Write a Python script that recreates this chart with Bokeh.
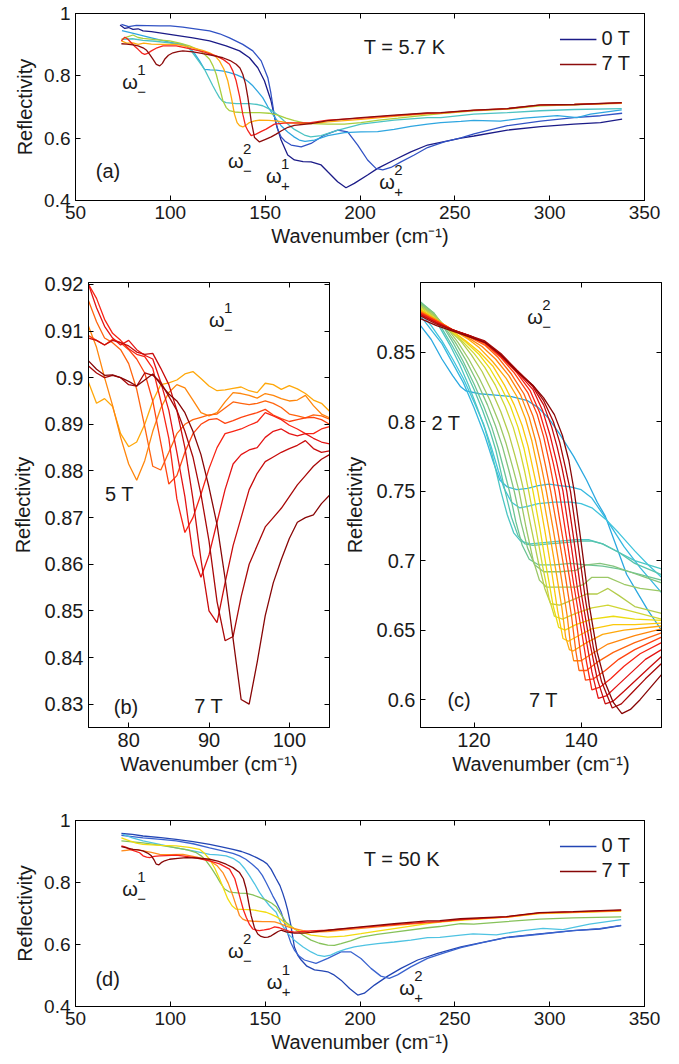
from bokeh.plotting import figure
from bokeh.models import LinearAxis, FixedTicker, Label, Legend, LegendItem, Range1d
from bokeh.layouts import column, row
from bokeh.embed import file_html
from bokeh.resources import INLINE

# ---------------- data ----------------
# Panel (a): T = 5.7 K, fields 0..7 T
a_fields = ["0 T", "1 T", "2 T", "3 T", "4 T", "5 T", "6 T", "7 T"]
a_wavenumber = [
    [73.5, 76, 78, 80.3, 83, 85.6, 90, 94.4, 103.1, 111.9, 120.7, 129.4, 136.5, 141.7, 146.1, 149.6, 153.1, 155.8, 158.4, 161.9, 165.4, 170, 174.2, 179.5, 183, 188.2, 192.6, 197, 204, 209.3, 218, 226.8, 235.6, 244.4, 253.2, 260.1, 277.7, 295.2, 312.8, 326.8, 338.2],
    [74.2, 78, 82.1, 88, 94.4, 100, 106.6, 113, 120.7, 126, 131.2, 138.2, 143.5, 147.9, 151.4, 153, 154.9, 156.5, 158.4, 160.5, 163.7, 169, 174.2, 181.2, 188.2, 193.5, 198.8, 204, 208.4, 212, 216.3, 221.6, 228.6, 235.6, 244.4, 253.2, 260.1, 277.7, 295.2, 312.8, 326.8, 338.2],
    [74.5, 80, 90, 100, 106.6, 110.1, 113, 115.4, 118, 121, 124.2, 128, 131.2, 135, 138.2, 141, 143.5, 146, 148.7, 151.5, 154.9, 158.4, 161.9, 165, 168, 171, 176, 183, 191.8, 200.5, 209.3, 218, 226.8, 235.6, 242.6, 253.2, 260, 274, 286.5, 304, 314.5, 321.5, 338],
    [75, 80, 85.6, 92, 99.6, 105, 108.4, 111, 113.7, 116, 118, 120, 122.4, 124.2, 125.9, 127.5, 129.4, 134.7, 141.7, 146, 148.7, 151, 153.2, 156.5, 160, 165.4, 170.7, 174, 179.5, 188, 200.5, 218, 235.6, 242.6, 260, 277.7, 295, 313, 338],
    [74.2, 77, 80.3, 83, 85.6, 92, 99.6, 105, 110.1, 114, 117.2, 120.7, 122.5, 124.2, 126, 127.7, 129.5, 131.2, 134, 138.2, 147, 152, 156.7, 161, 165.4, 170, 174.2, 183, 191.8, 200.5, 210, 220, 235, 242.6, 260, 277.7, 295, 313, 338],
    [74.2, 77, 80.3, 83, 86, 90, 94.4, 103.1, 111.9, 117, 120.7, 123.5, 125.9, 128.2, 130.3, 132.2, 133.8, 135.2, 136.5, 138.2, 140, 141.7, 144, 147, 152, 156.7, 161, 165.4, 174.2, 183, 200.5, 218, 235, 242.6, 260, 277.7, 295, 313, 338],
    [74.2, 76, 77.5, 79.4, 81, 83, 85, 86.5, 88, 90, 93, 96.1, 103.1, 111.9, 118, 124.2, 128, 131.2, 133, 134.7, 136.5, 138.2, 139.6, 140.9, 142.6, 145.2, 148, 150.5, 154.9, 160, 165.4, 174, 183, 200.5, 218, 235.6, 242.6, 260, 277.7, 295, 313, 338],
    [74.2, 77, 80.3, 83, 85.6, 87.5, 89.1, 91, 92.6, 94.4, 95.8, 97, 99, 101.4, 104, 106.6, 112, 117.2, 122, 127.7, 131.5, 134.7, 136.7, 138.2, 139.6, 140.9, 142.6, 144.4, 147, 150.5, 153.2, 155.8, 158.4, 162, 165.4, 174.2, 183, 200.5, 218, 235.6, 242.6, 260, 277.7, 295, 313, 338],
]
a_reflectivity = [
    [0.963, 0.952, 0.955, 0.949, 0.951, 0.944, 0.942, 0.938, 0.930, 0.922, 0.912, 0.896, 0.880, 0.858, 0.826, 0.784, 0.720, 0.645, 0.594, 0.546, 0.530, 0.525, 0.524, 0.514, 0.492, 0.460, 0.441, 0.455, 0.482, 0.503, 0.530, 0.556, 0.578, 0.589, 0.600, 0.607, 0.626, 0.637, 0.645, 0.650, 0.661],
    [0.965, 0.958, 0.962, 0.961, 0.960, 0.960, 0.956, 0.951, 0.944, 0.935, 0.922, 0.901, 0.880, 0.848, 0.794, 0.745, 0.670, 0.630, 0.604, 0.590, 0.578, 0.572, 0.583, 0.610, 0.626, 0.620, 0.578, 0.530, 0.503, 0.498, 0.506, 0.524, 0.546, 0.570, 0.588, 0.601, 0.614, 0.640, 0.655, 0.666, 0.672, 0.680],
    [0.945, 0.937, 0.922, 0.907, 0.901, 0.890, 0.870, 0.848, 0.821, 0.819, 0.818, 0.815, 0.810, 0.803, 0.794, 0.782, 0.768, 0.750, 0.730, 0.700, 0.668, 0.640, 0.620, 0.605, 0.594, 0.590, 0.594, 0.608, 0.618, 0.620, 0.621, 0.628, 0.638, 0.645, 0.650, 0.654, 0.657, 0.655, 0.664, 0.672, 0.666, 0.677, 0.691],
    [0.917, 0.919, 0.914, 0.911, 0.906, 0.901, 0.896, 0.880, 0.858, 0.838, 0.821, 0.797, 0.768, 0.748, 0.730, 0.719, 0.714, 0.711, 0.711, 0.708, 0.704, 0.697, 0.690, 0.675, 0.655, 0.628, 0.610, 0.604, 0.608, 0.625, 0.645, 0.658, 0.666, 0.666, 0.677, 0.682, 0.688, 0.692, 0.695],
    [0.917, 0.924, 0.931, 0.923, 0.920, 0.916, 0.912, 0.905, 0.896, 0.886, 0.874, 0.853, 0.832, 0.805, 0.762, 0.720, 0.698, 0.688, 0.684, 0.682, 0.682, 0.680, 0.674, 0.664, 0.656, 0.650, 0.647, 0.645, 0.645, 0.650, 0.658, 0.664, 0.674, 0.679, 0.688, 0.693, 0.704, 0.707, 0.713],
    [0.912, 0.905, 0.906, 0.901, 0.905, 0.902, 0.901, 0.901, 0.890, 0.882, 0.874, 0.864, 0.848, 0.822, 0.784, 0.730, 0.677, 0.650, 0.640, 0.636, 0.642, 0.650, 0.655, 0.658, 0.657, 0.655, 0.651, 0.648, 0.647, 0.652, 0.660, 0.670, 0.678, 0.680, 0.689, 0.694, 0.706, 0.708, 0.712],
    [0.912, 0.924, 0.918, 0.906, 0.896, 0.885, 0.873, 0.869, 0.872, 0.880, 0.890, 0.896, 0.896, 0.885, 0.876, 0.864, 0.852, 0.837, 0.815, 0.784, 0.735, 0.677, 0.640, 0.624, 0.608, 0.613, 0.622, 0.629, 0.645, 0.648, 0.649, 0.650, 0.658, 0.664, 0.672, 0.680, 0.681, 0.689, 0.695, 0.706, 0.708, 0.713],
    [0.903, 0.902, 0.899, 0.896, 0.890, 0.882, 0.869, 0.852, 0.837, 0.832, 0.840, 0.853, 0.866, 0.874, 0.878, 0.880, 0.877, 0.871, 0.866, 0.858, 0.849, 0.837, 0.825, 0.805, 0.775, 0.730, 0.656, 0.602, 0.588, 0.597, 0.604, 0.613, 0.623, 0.635, 0.641, 0.647, 0.656, 0.666, 0.674, 0.681, 0.682, 0.690, 0.695, 0.707, 0.708, 0.714],
]

# Panel (b): omega_-^1 region, 5 T .. 7 T in 0.25 T steps
b_fields = ["5 T", "5.25 T", "5.5 T", "5.75 T", "6 T", "6.25 T", "6.5 T", "6.75 T", "7 T"]
b_wavenumber = [75, 76, 77, 78, 79, 80, 81, 82, 83, 84, 85, 86, 87, 88, 89, 90, 91, 92, 93, 94, 95, 96, 97, 98, 99, 100, 101, 102, 103, 104, 105]
b_reflectivity = [
    [0.8990, 0.8945, 0.8955, 0.8938, 0.8880, 0.8852, 0.8862, 0.8900, 0.8950, 0.8985, 0.8989, 0.8995, 0.9008, 0.9013, 0.8998, 0.8982, 0.8972, 0.8974, 0.8977, 0.8980, 0.8972, 0.8968, 0.8988, 0.8985, 0.8975, 0.8983, 0.8976, 0.8966, 0.8952, 0.8945, 0.8928],
    [0.9110, 0.9065, 0.9000, 0.8940, 0.8872, 0.8815, 0.8780, 0.8822, 0.8885, 0.8935, 0.8968, 0.8985, 0.8978, 0.8952, 0.8925, 0.8918, 0.8925, 0.8948, 0.8968, 0.8966, 0.8962, 0.8956, 0.8966, 0.8962, 0.8955, 0.8950, 0.8952, 0.8962, 0.8940, 0.8922, 0.8914],
    [0.9165, 0.9120, 0.9085, 0.9075, 0.9060, 0.9030, 0.8975, 0.8895, 0.8810, 0.8802, 0.8840, 0.8880, 0.8900, 0.8910, 0.8915, 0.8920, 0.8922, 0.8935, 0.8948, 0.8945, 0.8942, 0.8945, 0.8950, 0.8945, 0.8936, 0.8922, 0.8918, 0.8914, 0.8920, 0.8918, 0.8911],
    [0.9090, 0.9080, 0.9070, 0.9082, 0.9075, 0.9060, 0.9040, 0.9010, 0.8950, 0.8860, 0.8772, 0.8790, 0.8840, 0.8880, 0.8900, 0.8910, 0.8912, 0.8902, 0.8908, 0.8915, 0.8920, 0.8925, 0.8932, 0.8920, 0.8912, 0.8906, 0.8910, 0.8914, 0.8915, 0.8910, 0.8900],
    [0.9200, 0.9170, 0.9125, 0.9095, 0.9080, 0.9062, 0.9050, 0.9045, 0.9020, 0.8950, 0.8870, 0.8740, 0.8668, 0.8700, 0.8750, 0.8805, 0.8850, 0.8880, 0.8885, 0.8890, 0.8898, 0.8905, 0.8925, 0.8918, 0.8910, 0.8898, 0.8890, 0.8880, 0.8880, 0.8890, 0.8895],
    [0.9200, 0.9150, 0.9110, 0.9085, 0.9070, 0.9080, 0.9060, 0.9048, 0.9040, 0.8990, 0.8930, 0.8840, 0.8745, 0.8620, 0.8572, 0.8620, 0.8690, 0.8760, 0.8815, 0.8835, 0.8845, 0.8850, 0.8872, 0.8885, 0.8890, 0.8880, 0.8875, 0.8880, 0.8870, 0.8862, 0.8858],
    [0.9085, 0.9080, 0.9070, 0.9080, 0.9075, 0.9068, 0.9055, 0.9050, 0.9052, 0.9020, 0.8985, 0.8930, 0.8850, 0.8740, 0.8610, 0.8500, 0.8475, 0.8560, 0.8640, 0.8700, 0.8760, 0.8795, 0.8820, 0.8830, 0.8840, 0.8848, 0.8855, 0.8865, 0.8848, 0.8840, 0.8843],
    [0.9025, 0.9010, 0.9000, 0.9005, 0.9000, 0.8985, 0.8982, 0.9010, 0.9005, 0.8990, 0.8960, 0.8930, 0.8885, 0.8830, 0.8750, 0.8650, 0.8520, 0.8436, 0.8445, 0.8530, 0.8600, 0.8640, 0.8680, 0.8700, 0.8720, 0.8745, 0.8770, 0.8790, 0.8810, 0.8825, 0.8835],
    [0.9036, 0.9018, 0.9005, 0.9006, 0.9000, 0.8992, 0.8982, 0.8995, 0.9008, 0.8985, 0.8965, 0.8950, 0.8925, 0.8885, 0.8835, 0.8765, 0.8685, 0.8570, 0.8440, 0.8310, 0.8300, 0.8390, 0.8490, 0.8560, 0.8610, 0.8655, 0.8690, 0.8700, 0.8706, 0.8730, 0.8748],
]

# Panel (c): omega_-^2 region, 2 T .. 7 T in 0.25 T steps
c_fields = ["2 T", "2.25 T", "2.5 T", "2.75 T", "3 T", "3.25 T", "3.5 T", "3.75 T", "4 T", "4.25 T", "4.5 T",
            "4.75 T", "5 T", "5.25 T", "5.5 T", "5.75 T", "6 T", "6.25 T", "6.5 T", "6.75 T", "7 T"]
c_wavenumber = [
    [110, 112, 114, 116, 117.5, 118.5, 121, 124, 127, 130, 132, 134, 136, 138.6, 141, 143, 144.5, 146.5, 148.5, 150.5, 152.5, 155],
    [110, 112, 114, 116, 118, 120, 122, 123.5, 124.8, 126.2, 128, 130, 132, 134, 136, 138, 140, 142, 145, 148, 151, 155],
    [110, 112, 114, 116, 118, 120, 121.8, 123.2, 124.5, 125.6, 127, 128.5, 130, 132, 135, 138, 140, 142, 144.5, 147, 150, 152.5, 155],
    [110, 112, 113.7, 115.5, 117.3, 119, 120.6, 122, 123.2, 124.2, 125, 126.2, 127.4, 128.7, 130.5, 133, 136, 139, 141.5, 144, 147, 150, 155],
    [110, 112.5, 114, 116, 118, 120, 121.6, 123, 124.1, 125, 125.8, 127, 128.2, 129.5, 131, 134, 137, 140, 142, 144, 147, 150, 155],
    [110, 112.5, 114.3, 116.2, 118, 120, 121.8, 123.3, 124.5, 125.6, 126.6, 127.8, 129, 130.3, 132, 135, 138, 141, 144, 147, 150, 155],
    [110, 112.5, 114.5, 116.5, 118.5, 120.5, 122.5, 124, 125.3, 126.5, 127.5, 128.8, 130, 131.3, 133, 136, 139, 141, 143.5, 146, 149, 152, 155],
    [110, 112.5, 115, 117, 119, 121, 123, 124.7, 126, 127.3, 128.4, 129.7, 131, 132.2, 133.5, 136, 139, 140.5, 142, 145, 148, 151, 155],
    [110, 112.5, 115, 117.5, 119.5, 121.5, 123.3, 125, 126.5, 127.6, 128.5, 129.3, 130.6, 132, 133.2, 134.3, 136, 138.5, 141, 143, 145, 147, 150, 155],
    [110, 112.5, 115, 117.5, 120, 122, 124, 125.8, 127.3, 128.5, 129.4, 130.2, 131.5, 132.8, 134, 135, 136.5, 139, 142, 145, 150, 155],
    [110, 113, 116, 118.5, 121, 123, 125, 126.8, 128.2, 129.3, 130.2, 131, 132.3, 133.6, 134.8, 135.8, 137, 139, 142, 146, 150, 155],
    [110, 113, 116, 118.5, 121, 123.5, 125.7, 127.5, 129, 130.1, 131, 131.9, 133.2, 134.5, 135.6, 136.6, 137.6, 139.5, 142, 146, 150, 155],
    [110, 113, 116, 119, 121, 123.5, 126, 128, 129.6, 130.8, 131.8, 132.7, 134, 135.4, 136.4, 137.1, 137.8, 138.5, 141, 144, 148, 155],
    [110, 113, 116, 119, 121.5, 124, 126.5, 128.7, 130.3, 131.5, 132.5, 133.5, 134.8, 136.2, 137.4, 138, 138.6, 140, 142, 145, 150, 155],
    [110, 113, 116, 119, 122, 124.5, 127, 129.3, 131, 132.3, 133.3, 134.3, 135.6, 137, 138.2, 139, 139.6, 141, 143, 146, 150, 155],
    [110, 113, 116, 119, 122, 125, 127.5, 130, 131.8, 133, 134.1, 135.1, 136.4, 137.8, 139, 140, 140.8, 142.3, 144.5, 147, 150, 155],
    [110, 113, 116, 119, 122, 125, 128, 130.5, 132.3, 133.6, 134.8, 135.9, 137.2, 138.6, 140, 141, 142, 143.5, 145.5, 148, 151, 155],
    [110, 113, 116, 119, 122, 125, 128, 131, 132.8, 134.2, 135.4, 136.6, 137.9, 139.3, 140.8, 142, 143.2, 144.8, 147, 149.5, 152, 155],
    [110, 113, 116, 119, 122, 125, 128, 131, 133, 134.5, 135.5, 136.4, 137.3, 138.6, 140, 141.5, 143, 144.5, 146, 148, 150.5, 153, 155],
    [110, 113, 116, 119, 122, 125, 128, 131, 133, 134.8, 136, 137, 138, 139.3, 140.8, 142.3, 143.8, 145.8, 147.5, 149.5, 152, 155],
    [110, 113, 116, 119, 122, 125, 128, 131, 133, 135, 136.5, 137.7, 138.7, 140, 141.5, 143, 144.5, 146, 147.6, 149.2, 151, 153, 155],
]
c_reflectivity = [
    [0.869, 0.859, 0.845, 0.833, 0.825, 0.822, 0.820, 0.819, 0.818, 0.815, 0.810, 0.802, 0.791, 0.775, 0.758, 0.742, 0.732, 0.711, 0.690, 0.677, 0.664, 0.650],
    [0.876, 0.866, 0.856, 0.842, 0.828, 0.810, 0.790, 0.772, 0.758, 0.753, 0.751, 0.752, 0.754, 0.755, 0.754, 0.753, 0.751, 0.745, 0.728, 0.710, 0.695, 0.677],
    [0.878, 0.869, 0.858, 0.845, 0.831, 0.814, 0.798, 0.782, 0.765, 0.752, 0.742, 0.738, 0.739, 0.741, 0.742, 0.742, 0.741, 0.738, 0.730, 0.720, 0.707, 0.697, 0.688],
    [0.885, 0.877, 0.867, 0.855, 0.841, 0.826, 0.810, 0.795, 0.779, 0.763, 0.750, 0.733, 0.720, 0.714, 0.712, 0.713, 0.714, 0.715, 0.715, 0.712, 0.706, 0.700, 0.694],
    [0.886, 0.877, 0.867, 0.854, 0.840, 0.823, 0.808, 0.793, 0.779, 0.764, 0.750, 0.731, 0.718, 0.712, 0.711, 0.712, 0.713, 0.714, 0.714, 0.712, 0.706, 0.698, 0.690],
    [0.886, 0.878, 0.868, 0.856, 0.843, 0.827, 0.811, 0.796, 0.781, 0.765, 0.750, 0.728, 0.711, 0.701, 0.697, 0.697, 0.698, 0.697, 0.696, 0.694, 0.691, 0.686],
    [0.885, 0.878, 0.868, 0.857, 0.844, 0.829, 0.812, 0.797, 0.782, 0.765, 0.750, 0.727, 0.709, 0.697, 0.692, 0.692, 0.693, 0.697, 0.698, 0.696, 0.692, 0.688, 0.684],
    [0.884, 0.877, 0.867, 0.857, 0.845, 0.831, 0.815, 0.799, 0.784, 0.766, 0.750, 0.724, 0.701, 0.686, 0.681, 0.681, 0.681, 0.683, 0.688, 0.688, 0.683, 0.680, 0.678],
    [0.883, 0.876, 0.867, 0.858, 0.848, 0.836, 0.822, 0.807, 0.791, 0.776, 0.763, 0.750, 0.725, 0.699, 0.680, 0.669, 0.668, 0.672, 0.676, 0.676, 0.680, 0.675, 0.667, 0.662],
    [0.882, 0.875, 0.867, 0.859, 0.849, 0.839, 0.826, 0.811, 0.796, 0.780, 0.765, 0.750, 0.724, 0.696, 0.673, 0.660, 0.658, 0.662, 0.666, 0.668, 0.663, 0.658],
    [0.881, 0.873, 0.865, 0.857, 0.848, 0.838, 0.825, 0.811, 0.796, 0.781, 0.765, 0.750, 0.723, 0.693, 0.667, 0.652, 0.650, 0.654, 0.658, 0.660, 0.658, 0.657],
    [0.880, 0.873, 0.865, 0.858, 0.850, 0.840, 0.826, 0.812, 0.797, 0.782, 0.766, 0.750, 0.722, 0.692, 0.664, 0.644, 0.642, 0.646, 0.651, 0.654, 0.654, 0.655],
    [0.880, 0.873, 0.866, 0.859, 0.853, 0.843, 0.831, 0.818, 0.802, 0.786, 0.768, 0.750, 0.722, 0.690, 0.666, 0.645, 0.636, 0.635, 0.641, 0.647, 0.650, 0.653],
    [0.879, 0.873, 0.866, 0.860, 0.854, 0.845, 0.833, 0.819, 0.803, 0.786, 0.769, 0.750, 0.722, 0.690, 0.660, 0.640, 0.628, 0.628, 0.633, 0.640, 0.646, 0.651],
    [0.879, 0.872, 0.866, 0.861, 0.855, 0.846, 0.834, 0.820, 0.804, 0.787, 0.769, 0.750, 0.722, 0.690, 0.660, 0.635, 0.621, 0.621, 0.627, 0.634, 0.641, 0.648],
    [0.878, 0.872, 0.866, 0.861, 0.856, 0.846, 0.835, 0.821, 0.805, 0.789, 0.770, 0.750, 0.720, 0.688, 0.659, 0.630, 0.614, 0.615, 0.621, 0.629, 0.636, 0.645],
    [0.878, 0.872, 0.866, 0.862, 0.857, 0.847, 0.835, 0.822, 0.806, 0.789, 0.770, 0.750, 0.718, 0.683, 0.651, 0.627, 0.607, 0.609, 0.615, 0.624, 0.633, 0.641],
    [0.877, 0.871, 0.866, 0.862, 0.857, 0.847, 0.836, 0.823, 0.808, 0.790, 0.771, 0.750, 0.717, 0.680, 0.646, 0.620, 0.601, 0.603, 0.611, 0.620, 0.629, 0.636],
    [0.877, 0.871, 0.866, 0.862, 0.857, 0.848, 0.837, 0.825, 0.812, 0.796, 0.782, 0.767, 0.750, 0.716, 0.677, 0.643, 0.615, 0.597, 0.599, 0.606, 0.615, 0.624, 0.631],
    [0.876, 0.870, 0.866, 0.862, 0.858, 0.849, 0.837, 0.826, 0.815, 0.800, 0.785, 0.768, 0.750, 0.715, 0.672, 0.637, 0.613, 0.594, 0.597, 0.605, 0.615, 0.626],
    [0.874, 0.869, 0.865, 0.861, 0.857, 0.848, 0.836, 0.826, 0.817, 0.805, 0.790, 0.772, 0.750, 0.713, 0.668, 0.634, 0.612, 0.598, 0.590, 0.593, 0.600, 0.609, 0.618],
]

# Panel (d): T = 50 K, fields 0..7 T
d_fields = ["0 T", "1 T", "2 T", "3 T", "4 T", "5 T", "6 T", "7 T"]
d_wavenumber = [
    [74.2, 80, 85.6, 95, 103.1, 112, 120.7, 127, 133, 137.5, 141.7, 145.5, 148.7, 151, 153.1, 155.8, 157.8, 159.3, 160.6, 161.9, 163.6, 165.4, 167.2, 169, 172, 176, 180, 183, 186, 190, 194.5, 198.8, 202.3, 207.6, 214.6, 221.6, 230.4, 240.9, 253.2, 264, 277.2, 294.7, 312.3, 326.3, 337.7],
    [74.2, 80, 85.6, 95, 103.1, 112, 120.7, 127, 133, 136.5, 139.8, 143, 146.1, 148.5, 150.5, 152.3, 154, 156, 158.4, 160.2, 161.9, 163.6, 165.4, 168, 170.7, 176.8, 183, 190, 195.3, 200.5, 205.8, 211, 215.4, 219.8, 226.8, 235.6, 244.4, 253.2, 264, 277.2, 294.7, 312.3, 326.3, 337.7],
    [75, 80, 85.6, 95, 103.1, 112, 120.7, 125, 129.4, 133, 136.5, 139, 141.7, 144.5, 147, 149.7, 152.3, 155.8, 158.4, 162, 165.4, 170, 174.2, 177.5, 181.2, 184.5, 188.2, 192.5, 197, 203, 209.3, 218, 226.8, 235.6, 242.1, 253, 259.6, 271.9, 286, 296.5, 307, 321, 337.7],
    [74.2, 80, 85.6, 95, 103.1, 109, 113.7, 116.5, 118.9, 121.5, 124.2, 126.5, 128.6, 131, 133, 136.5, 140, 143.5, 147, 150.5, 153.5, 155.8, 158, 161, 165.4, 170, 174.2, 178.5, 183, 186.5, 190, 195, 200.5, 209, 218, 235.6, 242.1, 253, 260, 277.2, 294.7, 312.3, 337.7],
    [74.2, 76, 78.6, 82, 85.6, 95, 103.1, 110, 115.4, 118, 120.7, 123.5, 126, 128.3, 130.3, 132.5, 134.7, 138, 143.5, 147, 150.5, 153, 155.8, 158, 160, 162.5, 165.4, 170, 174.2, 183, 191.8, 200.5, 209, 218, 235.6, 242.1, 253, 277.2, 294.7, 312.3, 337.7],
    [74.2, 77, 80.3, 83, 85.6, 90, 94.4, 100, 106.6, 114, 120.7, 124.5, 127.7, 130.5, 133, 135, 136.5, 138.2, 140, 144, 148.7, 152, 155, 157.5, 160, 162.5, 165.4, 170, 174, 183, 200.5, 218, 235.6, 242.1, 253, 277.2, 294.7, 312.3, 337.7],
    [74.2, 76.5, 78.6, 81, 83.8, 85.6, 87.5, 89.1, 91.5, 94.4, 98, 103.1, 112, 120.7, 126, 131.2, 134, 136.5, 138.5, 140, 141.8, 143.5, 145.5, 147, 149.5, 152.3, 155, 157.5, 160, 162.5, 165.4, 170, 174, 183, 200.5, 218, 235.6, 242.1, 253, 277.2, 294.7, 312.3, 337.7],
    [74.2, 77, 80.3, 83, 85.6, 88, 90, 91.5, 92.6, 94, 95.2, 97, 99.6, 104, 108.4, 114, 120.7, 125, 129.4, 133, 136.5, 138.5, 140, 141.3, 142.6, 144.3, 146.1, 147.8, 149.6, 151.4, 153.2, 155, 156.8, 158.4, 161, 165.4, 170, 174, 183, 200.5, 218, 235.6, 242.1, 253, 277.2, 294.7, 312.3, 337.7],
]
d_reflectivity = [
    [0.958, 0.955, 0.950, 0.945, 0.939, 0.932, 0.923, 0.915, 0.907, 0.900, 0.891, 0.880, 0.870, 0.860, 0.843, 0.812, 0.790, 0.765, 0.740, 0.710, 0.660, 0.592, 0.565, 0.550, 0.530, 0.518, 0.515, 0.512, 0.503, 0.485, 0.458, 0.437, 0.443, 0.469, 0.498, 0.523, 0.550, 0.571, 0.592, 0.606, 0.623, 0.634, 0.645, 0.650, 0.661],
    [0.952, 0.948, 0.944, 0.939, 0.934, 0.925, 0.912, 0.903, 0.894, 0.886, 0.875, 0.860, 0.843, 0.823, 0.800, 0.778, 0.757, 0.735, 0.705, 0.670, 0.635, 0.605, 0.582, 0.562, 0.550, 0.539, 0.555, 0.576, 0.576, 0.555, 0.523, 0.498, 0.491, 0.502, 0.528, 0.555, 0.573, 0.590, 0.605, 0.622, 0.633, 0.645, 0.651, 0.662],
    [0.955, 0.944, 0.934, 0.922, 0.912, 0.902, 0.891, 0.889, 0.886, 0.878, 0.864, 0.846, 0.822, 0.795, 0.768, 0.745, 0.725, 0.704, 0.667, 0.635, 0.614, 0.592, 0.576, 0.566, 0.562, 0.566, 0.576, 0.585, 0.592, 0.598, 0.603, 0.608, 0.614, 0.622, 0.623, 0.630, 0.634, 0.631, 0.645, 0.652, 0.648, 0.666, 0.680],
    [0.934, 0.931, 0.928, 0.920, 0.912, 0.905, 0.896, 0.885, 0.870, 0.848, 0.822, 0.798, 0.779, 0.770, 0.768, 0.766, 0.765, 0.760, 0.752, 0.743, 0.733, 0.722, 0.700, 0.672, 0.651, 0.630, 0.614, 0.604, 0.598, 0.597, 0.603, 0.612, 0.624, 0.633, 0.640, 0.654, 0.658, 0.667, 0.666, 0.674, 0.682, 0.686, 0.689],
    [0.944, 0.940, 0.934, 0.927, 0.923, 0.920, 0.918, 0.913, 0.907, 0.894, 0.875, 0.845, 0.811, 0.777, 0.747, 0.725, 0.714, 0.713, 0.712, 0.708, 0.704, 0.698, 0.690, 0.682, 0.672, 0.660, 0.651, 0.638, 0.630, 0.624, 0.627, 0.635, 0.643, 0.651, 0.667, 0.672, 0.678, 0.688, 0.700, 0.703, 0.708],
    [0.902, 0.904, 0.907, 0.905, 0.902, 0.897, 0.891, 0.890, 0.891, 0.882, 0.870, 0.855, 0.832, 0.798, 0.757, 0.720, 0.693, 0.682, 0.677, 0.675, 0.674, 0.674, 0.673, 0.668, 0.662, 0.656, 0.651, 0.645, 0.640, 0.642, 0.652, 0.662, 0.670, 0.674, 0.680, 0.688, 0.701, 0.704, 0.709],
    [0.918, 0.914, 0.907, 0.902, 0.896, 0.886, 0.882, 0.880, 0.884, 0.886, 0.887, 0.888, 0.881, 0.870, 0.860, 0.843, 0.812, 0.757, 0.712, 0.688, 0.664, 0.650, 0.646, 0.645, 0.647, 0.650, 0.657, 0.654, 0.648, 0.643, 0.640, 0.642, 0.644, 0.646, 0.655, 0.664, 0.672, 0.674, 0.680, 0.689, 0.702, 0.705, 0.710],
    [0.916, 0.912, 0.907, 0.905, 0.902, 0.895, 0.886, 0.872, 0.859, 0.857, 0.864, 0.870, 0.875, 0.878, 0.880, 0.879, 0.875, 0.869, 0.859, 0.848, 0.832, 0.812, 0.779, 0.735, 0.693, 0.655, 0.634, 0.626, 0.623, 0.624, 0.628, 0.635, 0.642, 0.646, 0.641, 0.637, 0.637, 0.639, 0.646, 0.657, 0.667, 0.676, 0.677, 0.683, 0.690, 0.703, 0.706, 0.712],
]

# Ticks and tick labels
a_xticks = [50, 100, 150, 200, 250, 300, 350]
a_yticks = [0.4, 0.6, 0.8, 1]
a_ytick_labels = ["0.4", "0.6", "0.8", "1"]
b_xticks = [80, 90, 100]
b_yticks = [0.83, 0.84, 0.85, 0.86, 0.87, 0.88, 0.89, 0.9, 0.91, 0.92]
b_ytick_labels = ["0.83", "0.84", "0.85", "0.86", "0.87", "0.88", "0.89", "0.9", "0.91", "0.92"]
c_xticks = [120, 140]
c_yticks = [0.6, 0.65, 0.7, 0.75, 0.8, 0.85]
c_ytick_labels = ["0.6", "0.65", "0.7", "0.75", "0.8", "0.85"]

# ---------------- styles ----------------
FONT = "Liberation Sans"
INK = "#1a1a1a"
a_colors = ["#1b1b87", "#3152c4", "#2fa6e0", "#4cc3c3", "#a9cf3f", "#ffab0f", "#f4251e", "#8c0c0c"]
d_colors = ["#2346b4", "#3a63cf", "#4fc3e2", "#86c25a", "#f2dc10", "#ff8c1e", "#f8201c", "#860606"]
c_colors = ["#2aa8e0", "#35b8e0", "#40c4dc", "#4cc6c4", "#58c4ac", "#6cc494", "#84c47c", "#9cc866",
            "#b4cc4c", "#d0d634", "#ecdc10", "#fbc80a", "#ffa80a", "#ff860c", "#ff640e", "#ff4410",
            "#f82414", "#e41414", "#c80c0c", "#a80808", "#880606"]
b_colors = c_colors[12:]
LW = 1.3


def style_axis(ax, tick_px, standoff, label_standoff):
    ax.major_tick_in = 5
    ax.major_tick_out = 0
    ax.minor_tick_line_color = None
    ax.axis_line_color = "black"
    ax.major_tick_line_color = "black"
    ax.major_label_text_font = FONT
    ax.major_label_text_font_size = f"{tick_px}px"
    ax.major_label_text_color = INK
    ax.major_label_standoff = standoff
    ax.axis_label_text_font = FONT
    ax.axis_label_text_font_size = "20px"
    ax.axis_label_text_font_style = "normal"
    ax.axis_label_text_color = INK
    ax.axis_label_standoff = label_standoff


def make_panel(width, height, xr, yr, borders, xticks, yticks, ylabels, tick_px, ylab_standoff):
    left, right, top, bottom = borders
    p = figure(width=width, height=height, x_range=Range1d(*xr), y_range=Range1d(*yr),
               output_backend="svg", toolbar_location=None,
               min_border_left=left, min_border_right=right,
               min_border_top=top, min_border_bottom=bottom)
    p.xgrid.visible = False
    p.ygrid.visible = False
    p.outline_line_color = "black"
    p.outline_line_width = 1
    p.xaxis.ticker = FixedTicker(ticks=xticks)
    p.yaxis.ticker = FixedTicker(ticks=yticks)
    p.yaxis.major_label_overrides = dict(zip(yticks, ylabels))
    p.xaxis.axis_label = "Wavenumber (cm⁻¹)"
    p.yaxis.axis_label = "Reflectivity"
    for ax in p.xaxis:
        style_axis(ax, tick_px, 5, 3)
    for ax in p.yaxis:
        style_axis(ax, tick_px, 5, ylab_standoff)
    # box-style tick marks on the top and right edges (no labels)
    for place, ticks in (("right", yticks), ("above", xticks)):
        ax = LinearAxis(ticker=FixedTicker(ticks=ticks))
        style_axis(ax, tick_px, 0, 0)
        ax.major_label_text_font_size = "4px"
        ax.major_label_text_color = None
        p.add_layout(ax, place)
    return p


def put_text(p, x, y, s, size=20, dx=0, dy=0):
    p.add_layout(Label(x=x, y=y, x_offset=dx, y_offset=dy, text=s, text_font=FONT,
                       text_font_size=f"{size}px", text_color=INK,
                       text_baseline="middle", text_align="left"))


def omega(p, x, y, sup, sub):
    put_text(p, x, y, "ω", 20)
    put_text(p, x, y, sup, 15, dx=15, dy=12)
    put_text(p, x, y, sub, 15, dx=15, dy=-10)


def add_legend(p, r0, r7):
    leg = Legend(items=[LegendItem(label="0 T", renderers=[r0]),
                        LegendItem(label="7 T", renderers=[r7])],
                 location="top_right", border_line_color=None, background_fill_alpha=0,
                 label_text_font=FONT, label_text_font_size="20px", label_text_color=INK,
                 glyph_width=37, glyph_height=22, label_standoff=5,
                 padding=8, margin=14, spacing=2)
    p.add_layout(leg)


# ---------------- panel (a) ----------------
pa = make_panel(679, 258, (50, 350), (0.4, 1.0), (74, 35, 13, 58),
                a_xticks, a_yticks, a_ytick_labels, 19, 5)
ra = [pa.line(x, y, line_color=c, line_width=LW)
      for x, y, c in zip(a_wavenumber, a_reflectivity, a_colors)]
add_legend(pa, ra[0], ra[7])
put_text(pa, 202, 0.891, "T = 5.7 K")
put_text(pa, 60.7, 0.494, "(a)")
omega(pa, 74.6, 0.779, "1", "−")
omega(pa, 130.4, 0.527, "2", "−")
omega(pa, 150.5, 0.478, "1", "+")
omega(pa, 210.2, 0.459, "2", "+")

# ---------------- panel (b) ----------------
pb = make_panel(340, 540, (75, 105), (0.825, 0.9204), (88, 11, 24, 71),
                b_xticks, b_yticks, b_ytick_labels, 20, 8)
for y, c in zip(b_reflectivity, b_colors):
    pb.line(b_wavenumber, y, line_color=c, line_width=LW)
omega(pb, 90.0, 0.9123, "1", "−")
put_text(pb, 77.06, 0.8751, "5 T")
put_text(pb, 78.14, 0.8294, "(b)")
put_text(pb, 88.16, 0.8296, "7 T")

# ---------------- panel (c) ----------------
pc = make_panel(339, 540, (110, 155), (0.58, 0.90), (79, 18, 24, 71),
                c_xticks, c_yticks, c_ytick_labels, 20, 8)
for x, y, c in zip(c_wavenumber, c_reflectivity, c_colors):
    pc.line(x, y, line_color=c, line_width=LW)
omega(pc, 129.94, 0.8751, "2", "−")
put_text(pc, 112.05, 0.7993, "2 T")
put_text(pc, 115.03, 0.5995, "(c)")
put_text(pc, 130.25, 0.5995, "7 T")

# ---------------- panel (d) ----------------
pd = make_panel(679, 266, (50, 350), (0.4, 1.0), (75, 34, 22, 58),
                a_xticks, a_yticks, a_ytick_labels, 19, 5)
rd = [pd.line(x, y, line_color=c, line_width=LW)
      for x, y, c in zip(d_wavenumber, d_reflectivity, d_colors)]
add_legend(pd, rd[0], rd[7])
put_text(pd, 202, 0.877, "T = 50 K")
put_text(pd, 60.5, 0.489, "(d)")
omega(pd, 74.6, 0.778, "1", "−")
omega(pd, 130.4, 0.579, "2", "−")
omega(pd, 150.9, 0.479, "1", "+")
omega(pd, 220.7, 0.461, "2", "+")

layout = column(pa, row(pb, pc), pd)
open("out.html", "w").write(file_html(layout, INLINE, title="Reflectivity"))
